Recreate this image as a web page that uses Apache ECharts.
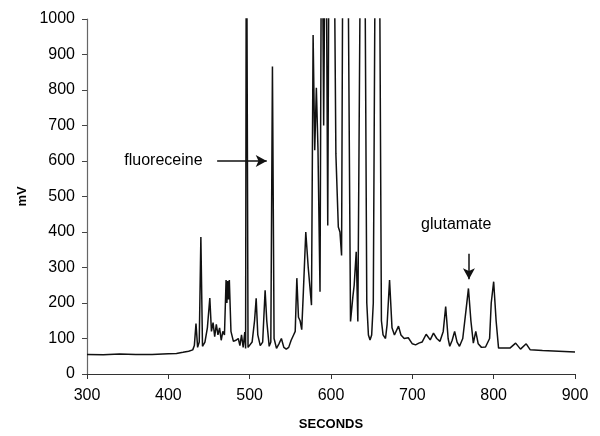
<!DOCTYPE html>
<html>
<head>
<meta charset="utf-8">
<script src="https://cdn.jsdelivr.net/npm/echarts@6/dist/echarts.min.js"></script>
<style>
html,body{margin:0;padding:0;background:#fff;}
#c{width:600px;height:436px;}
</style>
</head>
<body>
<div id="c"></div>
<script>
// Retention time (seconds)
var seconds = [300,320,340,360,380,400,410,418,425,430,432,434,436,438,440,442,445,448,451,453,455,457,459,461,463,465,467,469,471,472,473,474,475,477,480,483,486,488,490,492,494,495,496,498,500,503,506,508,510,513,516,519,521,524,526,528,530,533,536,539,542,545,548,551,554,556,558,560,562,564,566,569,572,576,578,580,582,584,586.5,588.6,591,593.5,596,598,600.5,603,606,609,611,613,615,617.5,620,624,627,628.5,631,633,637,639,641,644,646,648,650,652,655,657,659,662,664,667,669,672,675,678,683,686,690,695,700,704,708,712,717,722,726,730,734,738,741,744,746,749,752,755,758,762,766,769,772,775,778,781,785,790,795,797,800,803,806,815,820,827,833,840,845,860,880,900];
// Detector signal (mV)
var mV = [55,54,56,55,55,57,58,61,64,68,80,142,75,90,386,78,90,130,214,120,145,105,140,110,130,95,120,110,265,200,262,210,265,120,92,95,100,80,110,75,118,72,1500,75,80,90,150,213,110,80,90,236,150,78,90,866,100,72,85,100,75,70,75,95,110,120,270,160,150,125,230,400,300,194,955,630,806,632,232,1500,700,1500,418,1500,1200,1500,620,414,400,334,1500,1200,1500,148,220,250,344,148,1500,1200,1500,200,110,96,110,200,1500,1200,1500,150,110,100,140,265,130,110,135,110,100,102,85,82,87,90,112,96,115,100,92,120,190,100,78,95,120,90,78,100,180,241,150,87,120,85,75,76,100,200,260,150,73,73,73,87,70,85,68,66,64,62];
// Axis ticks
var xTicks = {min:300, max:900, step:100};
var yTicks = {min:0, max:1000, step:100};
// Annotations
var annFluo = {text:'fluoreceine', textAt:[394,600], from:[460,600], to:[521,600]};
var annGlu = {text:'glutamate', textAt:[754,421], from:[769.6,339], to:[769.6,267]};

var pts = seconds.map(function(s,i){return [s, mV[i]];});
var chart = echarts.init(document.getElementById('c'), null, {renderer:'canvas'});
var font = 'Arial, "Liberation Sans", sans-serif';
chart.setOption({
  animation:false,
  backgroundColor:'#fff',
  grid:{left:87, right:25, top:19, bottom:60, containLabel:false},
  xAxis:{
    type:'value', min:xTicks.min, max:xTicks.max, interval:xTicks.step,
    name:'SECONDS', nameLocation:'middle', nameGap:44,
    nameTextStyle:{fontFamily:font, fontSize:13, fontWeight:'bold', color:'#000'},
    axisLine:{show:true, lineStyle:{color:'#333', width:1.2}},
    axisTick:{show:true, inside:false, length:5, lineStyle:{color:'#333'}},
    axisLabel:{fontFamily:font, fontSize:16, color:'#000', margin:14},
    splitLine:{show:false}
  },
  yAxis:{
    type:'value', min:yTicks.min, max:yTicks.max, interval:yTicks.step,
    name:'mV', nameLocation:'middle', nameGap:53, nameRotate:90,
    nameTextStyle:{fontFamily:font, fontSize:13, fontWeight:'bold', color:'#000'},
    axisLine:{show:true, lineStyle:{color:'#666', width:1.2}},
    axisTick:{show:true, inside:false, length:5, lineStyle:{color:'#444'}},
    axisLabel:{fontFamily:font, fontSize:16, color:'#000', margin:12, formatter:function(v){return String(v);}},
    splitLine:{show:false}
  },
  series:[{
    type:'line', data:pts, showSymbol:false, symbol:'none', clip:true,
    lineStyle:{color:'#111', width:1.5},
    markLine:{
      silent:true, symbol:['none','arrow'], symbolSize:[9,11],
      label:{show:false},
      lineStyle:{color:'#111', width:1.5, type:'solid'},
      data:[
        [{coord:annFluo.from},{coord:annFluo.to}],
        [{coord:annGlu.from},{coord:annGlu.to}]
      ]
    },
    markPoint:{
      silent:true, symbol:'circle', symbolSize:0,
      label:{show:true, position:'inside', fontFamily:font, fontSize:16, color:'#000'},
      data:[
        {coord:annFluo.textAt, value:annFluo.text, label:{formatter:annFluo.text}},
        {coord:annGlu.textAt, value:annGlu.text, label:{formatter:annGlu.text}}
      ]
    }
  }]
});
</script>
</body>
</html>
